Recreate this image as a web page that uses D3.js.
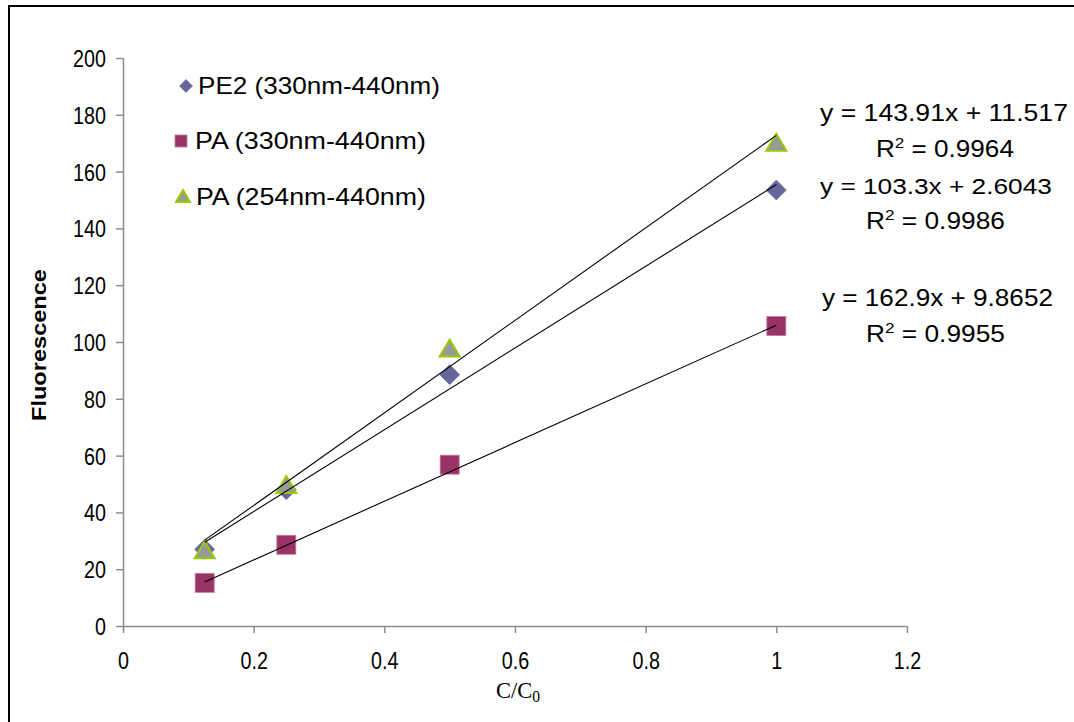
<!DOCTYPE html>
<html>
<head>
<meta charset="utf-8">
<script src="https://cdn.jsdelivr.net/npm/d3@7"></script>
<style>
  html, body { margin: 0; padding: 0; background: #fff; }
  svg { display: block; }
  text { font-family: "Liberation Sans", Arial, sans-serif; fill: #000; }
</style>
</head>
<body>
<svg id="chart" width="1074" height="722"></svg>
<script>
// ---- data ----
const xValues = [0.125, 0.25, 0.5, 1];
const seriesNames = ["PE2 (330nm-440nm)", "PA (330nm-440nm)", "PA (254nm-440nm)"];
const pe2Values = [27, 48, 88.5, 153.5];
const pa330Values = [15.2, 28.6, 56.8, 105.6];
const pa254Values = [26.5, 49.5, 97.5, 170];
const trendSlopes = [143.91, 103.3, 162.9];
const trendIntercepts = [11.517, 2.6043, 9.8652];
const equationLabels = ["y = 143.91x + 11.517", "y = 103.3x + 2.6043", "y = 162.9x + 9.8652"];
const r2Labels = ["0.9964", "0.9986", "0.9955"];
const xTicks = [0, 0.2, 0.4, 0.6, 0.8, 1, 1.2];
const yTicks = [0, 20, 40, 60, 80, 100, 120, 140, 160, 180, 200];

const svg = d3.select("#chart");
svg.append("rect").attr("x", 0).attr("y", 0).attr("width", 1074).attr("height", 722).attr("fill", "#fff");
// outer frame (only top/left visible)
svg.append("rect").attr("x", 9).attr("y", 6).attr("width", 1200).attr("height", 900)
  .attr("fill", "none").attr("stroke", "#000").attr("stroke-width", 2);

const x = d3.scaleLinear().domain([0, 1.2]).range([123, 907]);
const y = d3.scaleLinear().domain([0, 200]).range([626, 58]);

// fitted text helper: scales text horizontally to a target width
function fitText(parent, tx, ty, width, size, build, anchor) {
  const g = parent.append("g");
  const t = g.append("text").attr("x", 0).attr("y", 0).attr("font-size", size)
    .attr("text-anchor", anchor || "start");
  build(t);
  const w = t.node().getComputedTextLength();
  const sx = width / w;
  g.attr("transform", `translate(${tx},${ty}) scale(${sx},1)`);
  return g;
}

const axisColor = "#8c8c8c";
// axes
const yAxis = d3.axisLeft(y).tickValues(yTicks).tickSize(7).tickFormat(d3.format("d"));
const gy = svg.append("g").attr("transform", `translate(${x(0)},0)`).call(yAxis);
const xAxis = d3.axisBottom(x).tickValues(xTicks).tickSize(7).tickFormat(d => d3.format("~g")(d));
const gx = svg.append("g").attr("transform", `translate(0,${y(0)})`).call(xAxis);
[gx, gy].forEach(g => {
  g.select(".domain").attr("stroke", axisColor).attr("stroke-width", 1.5);
  g.selectAll(".tick line").attr("stroke", axisColor).attr("stroke-width", 1.5);
  g.selectAll(".tick text").attr("font-family", "Liberation Sans, Arial, sans-serif")
    .attr("font-size", 23.5).attr("fill", "#000");
});
gy.select(".domain").attr("d", `M0.5,${y(200)}V${y(0)}`);
gx.select(".domain").attr("d", `M${x(0)},0.5H${x(1.2)}`);
gy.selectAll(".tick text").attr("x", 0).attr("dy", "0.36em")
  .attr("transform", "translate(-17,0) scale(0.84,1)");
gx.selectAll(".tick text").attr("y", 0).attr("dy", "0.71em")
  .attr("transform", "translate(0,26) scale(0.84,1)");

// axis titles
svg.append("text").attr("transform", `translate(46,${(y(0) + y(200)) / 2 + 3}) rotate(-90)`)
  .attr("text-anchor", "middle").attr("font-weight", "bold").attr("font-size", 21)
  .attr("textLength", 152).attr("lengthAdjust", "spacingAndGlyphs")
  .text("Fluorescence");
fitText(svg, 518, 698, 44, 23, t => {
  t.style("font-family", "Liberation Serif, Times New Roman, serif");
  t.append("tspan").text("C/C");
  t.append("tspan").attr("font-size", 16).attr("dy", 4).text("0");
}, "middle");

// markers
const colors = { diamond: "#666699", square: "#993366", triFill: "#999999", triStroke: "#99cc00" };
function drawDiamond(g, cx, cy, r) {
  g.append("path").attr("d", `M${cx},${cy - r}L${cx + r},${cy}L${cx},${cy + r}L${cx - r},${cy}Z`)
    .attr("fill", colors.diamond).attr("stroke", "#7777aa").attr("stroke-width", 0.8);
}
function drawSquare(g, cx, cy, s) {
  g.append("rect").attr("x", cx - s / 2).attr("y", cy - s / 2).attr("width", s).attr("height", s)
    .attr("fill", colors.square).attr("stroke", "#c77ba0").attr("stroke-width", 0.8);
}
function drawTriangle(g, cx, cy, w, h) {
  g.append("path").attr("d", `M${cx},${cy - h / 2}L${cx + w / 2},${cy + h / 2}L${cx - w / 2},${cy + h / 2}Z`)
    .attr("fill", colors.triFill).attr("stroke", colors.triStroke).attr("stroke-width", 2)
    .attr("stroke-linejoin", "miter");
}

const marks = svg.append("g");
xValues.forEach((xv, i) => drawDiamond(marks, x(xv), y(pe2Values[i]), 10));
xValues.forEach((xv, i) => drawSquare(marks, x(xv), y(pa330Values[i]), 19));
xValues.forEach((xv, i) => drawTriangle(marks, x(xv), y(pa254Values[i]) - 1, 20, 17));

// trendlines
const trendG = svg.append("g");
trendSlopes.forEach((m, k) => {
  const x0 = d3.min(xValues), x1 = d3.max(xValues);
  trendG.append("line")
    .attr("x1", x(x0)).attr("y1", y(m * x0 + trendIntercepts[k]))
    .attr("x2", x(x1)).attr("y2", y(m * x1 + trendIntercepts[k]))
    .attr("stroke", "#000").attr("stroke-width", 1.1);
});

// legend
const leg = svg.append("g");
drawDiamond(leg, 186, 86, 6.5);
drawSquare(leg, 181, 141, 12);
drawTriangle(leg, 183, 196, 14, 12);
const legendPos = [[198, 94, 242], [195, 149, 231], [196, 205, 230]];
seriesNames.forEach((s, i) => {
  fitText(leg, legendPos[i][0], legendPos[i][1], legendPos[i][2], 23, t => t.text(s));
});

// equations
const eqPos = [[820, 121, 248], [820, 194, 232], [822, 306, 231]];
const r2Pos = [[876, 157, 138], [866, 229, 139], [866, 342, 139]];
equationLabels.forEach((e, i) => {
  fitText(svg, eqPos[i][0], eqPos[i][1], eqPos[i][2], 23, t => t.text(e));
  fitText(svg, r2Pos[i][0], r2Pos[i][1], r2Pos[i][2], 23, t => {
    t.append("tspan").text("R");
    t.append("tspan").attr("font-size", 15).attr("dy", -9).text("2");
    t.append("tspan").attr("dy", 9).text(" = " + r2Labels[i]);
  });
});
</script>
</body>
</html>
